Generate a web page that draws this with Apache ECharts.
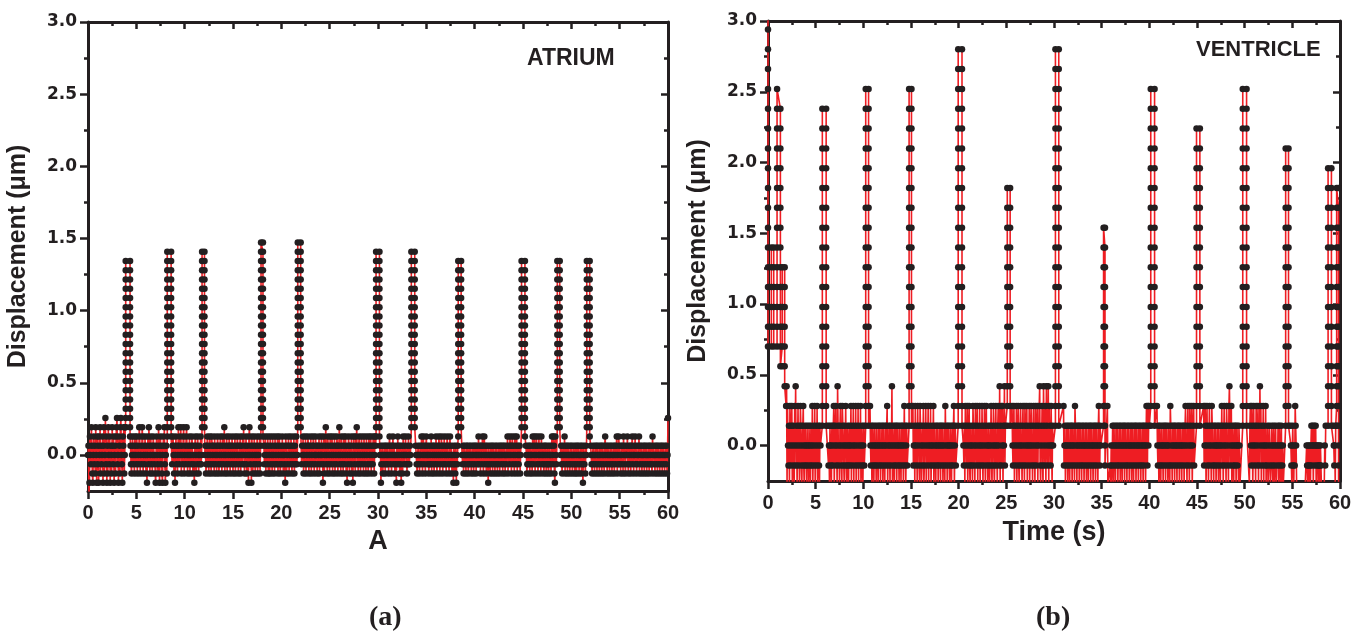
<!DOCTYPE html>
<html>
<head>
<meta charset="utf-8">
<title>Atrium and ventricle displacement</title>
<script src="https://cdn.jsdelivr.net/npm/echarts@6/dist/echarts.min.js"></script>
<style>
  html, body { margin: 0; padding: 0; background: #ffffff; }
  #chart { width: 1368px; height: 637px; }
</style>
</head>
<body>
<div id="chart"></div>
<script>
// ---- recording parameters ----
const SAMPLE_DT = 0.05;         // s between baseline samples
const ATRIUM_STEP = 0.064;      // µm per quantisation level (atrium)
const VENTRICLE_STEP = 0.14;    // µm per quantisation level (ventricle)

// ---- axis ticks ----
const xMajorTicks = [0, 5, 10, 15, 20, 25, 30, 35, 40, 45, 50, 55, 60];
const xMinorTicks = [2.5, 7.5, 12.5, 17.5, 22.5, 27.5, 32.5, 37.5, 42.5, 47.5, 52.5, 57.5];
const yMajorTicks = [0, 0.5, 1.0, 1.5, 2.0, 2.5, 3.0];
const yMinorTicks = [0.25, 0.75, 1.25, 1.75, 2.25, 2.75];

// ---- atrium: baseline runs (levels) ----
const atriumRunStart = [0.0, 4.4, 8.7, 12.1, 18.2, 22.1, 30.2, 33.9, 38.7, 45.3, 48.9, 52.0];
const atriumRuns = [
  [0,1,-4,-3,2,0,-1,3,1,-2,-3,0,2,-1,1,-2,3,0,-3,2,
   -1,1,-3,2,0,3,-2,1,-1,0,2,-3,1,3,-2,0,4,-1,2,-3,
   1,-2,3,0,-1,2,-3,1,0,-2,3,1,-1,2,-3,0,1,-2,2,3,
   4,-1,0,-3,2,1,-2,3,4,0,-1,-3,2,1,3,-2,0,3],
  [1,-1,-2,0,2,1,-1,0,-2,2,1,0,-1,2,-2,1,0,-1,3,2,
   -2,0,1,-1,3,2,-2,0,1,-1,2,0,-2,1,-3,0,2,-1,3,1,
   -2,0,2,-1,1,-2,0,2,1,-1,0,-2,-3,1,2,0,-1,-2,3,1,
   -3,0,2,-1,1,-2,-3,0,2,1,3,-1,-3,0,1,-2],
  [-1,1,2,0,-2,1,-3,0,2,-1,1,-2,0,3,1,-1,2,0,3,-2,
   1,0,-1,2,3,-2,0,1,-1,2,3,0,-2,1,-1,0,2,-2,1,0,
   -1,2,1,-2,0,-1,-3,1,2,0,-2,1,-1,2,0,-2,1,0,-1,2,
   -1,0],
  [0,1,-2,-1,1,2,0,-1,-2,1,2,0,-1,-2,2,1,0,-1,1,-2,
   2,0,-1,1,-2,0,2,1,-1,-2,0,1,2,-1,0,-2,1,2,-1,0,
   3,-2,1,0,-1,2,-2,1,0,-1,2,1,-2,0,1,-1,2,0,-2,1,
   -1,0,2,-2,1,-1,0,2,1,-2,0,-1,1,2,-2,0,1,-1,2,0,
   3,-1,-2,1,0,2,-1,-2,1,0,-3,2,3,0,-1,1,-3,2,0,-2,
   1,-1,2,0,-2,1,-1,0,2,-2,1,0,-1,2,-2,1],
  [1,-1,0,2,-2,1,0,-1,2,-2,1,0,-2,2,-1,1,0,-2,2,-1,
   0,1,-2,2,-1,0,1,-1,2,-2,0,1,2,-1,-2,0,1,-1,2,0,
   -2,1,0,-1,-3,2,1,-2,0,-1,1,2,-2,0,1,-1,2,0,-2,1,
   -1,0,2,-2,1,-1,0,2,-1,0],
  [-1,1,0,2,-2,0,1,-1,2,-2,1,0,-1,2,1,-2,0,1,-1,2,
   -2,0,1,-1,2,1,-2,0,-1,2,0,1,-2,1,-1,0,2,-2,1,0,
   -1,2,0,1,-3,-1,2,-2,0,1,3,-1,0,-2,2,1,-1,0,-2,2,
   1,-1,0,2,-2,1,0,-1,2,-2,1,0,-1,2,1,-2,0,1,3,-1,
   0,-2,2,1,-1,0,-2,2,1,-1,0,2,-2,1,-3,0,-1,2,1,-2,
   0,1,-1,2,-2,0,-3,1,2,-1,0,-2,2,1,3,-1,0,-2,1,2,
   -1,0,-2,1,2,-1,0,1,-2,2,0,-1,1,-2,2,0,1,-1,-2,2,
   1,0,-1,2,-2,1,0,-1,2,1,-2,0,2,1],
  [0,1,-3,-1,0,1,-2,0,-1,1,0,-2,1,-1,0,1,-1,0,-2,1,
   2,0,-1,1,-2,0,1,2,-1,0,1,-2,0,-1,-3,1,0,2,-1,1,
   0,-2,1,-1,-3,0,1,-2,2,0,-1,1,0,2,-1,0,-2,1,-1,2,
   0,-1,1,0],
  [1,0,-1,-2,0,1,-1,0,-2,1,0,-1,2,1,-2,0,2,-1,1,0,
   -2,1,2,0,-1,1,0,-2,-1,1,0,-1,2,-2,1,0,-1,1,-2,0,
   1,-1,2,0,-2,1,-1,0,2,1,-2,0,-1,2,1,0,-2,1,-1,2,
   0,-1,1,-2,0,2,1,-1,0,-2,1,2,-1,0,1,-2,0,-1,-3,1,
   0,-1,-2,1,-3,0,-1,1],
  [0,-1,1,-2,0,1,-1,0,-2,1,0,1,-1,-2,0,1,-1,0,1,-2,
   0,-1,1,0,-2,1,-1,0,1,-2,0,1,-1,0,2,-1,0,1,-2,1,
   0,-1,2,1,-2,0,2,-1,1,0,-2,1,-1,0,-3,1,-1,0,-2,1,
   0,-1,1,-2,0,1,-1,0,-2,1,0,-1,1,-2,0,-1,1,0,-2,1,
   0,-1,1,0,-2,1,-1,0,1,-2,0,-1,1,0,2,-2,1,0,-1,2,
   1,0,-2,1,2,-1,0,1,-2,2,0,-1,1,2,-2,0,1,-1,0,1,
   -2,0],
  [1,0,-2,-1,1,0,-1,1,-2,0,1,-1,0,-2,2,1,-1,0,2,-2,
   1,0,2,-1,1,-2,0,2,-1,0,1,-2,2,0,-1,1,0,-2,-1,1,
   0,1,-2,-1,0,1,-1,-2,0,1,-1,0,-2,1,2,0,-1,2,1,-2,
   -3,2,0,-1],
  [0,1,-1,-2,0,1,-1,0,2,-2,1,0,-1,1,-2,0,1,-1,0,-2,
   1,-1,0,1,-2,0,-1,1,0,-2,-1,1,0,-2,1,-1,0,1,-2,0,
   -1,1,0,-2,1,-1,-3,0,1,-1,0,-2,1,0],
  [1,0,-1,-2,0,1,-1,0,-2,1,0,-1,1,-2,0,1,-1,0,-2,1,
   0,-1,1,-2,0,1,-1,0,-2,1,2,0,-1,1,-2,0,1,-1,0,-2,
   1,0,-1,1,-2,0,-1,1,0,-2,1,-1,0,1,2,-2,0,-1,2,1,
   -1,0,-2,1,0,-1,1,-2,2,0,1,-1,-2,0,1,0,2,-1,-2,1,
   0,-1,1,-2,0,1,2,-1,0,-2,1,0,2,-1,1,-2,0,-1,1,0,
   2,-2,1,-1,0,1,-2,0,-1,1,0,-2,1,-1,0,1,-2,0,-1,1,
   0,-2,1,-1,0,1,-1,-2,2,0,1,-1,0,-2,1,0,-1,1,-2,0,
   1,-1,0,-2,1,0,-1,1,-2,0,1,-1,0,-2,1,0,-1,1,-2,0,
   4]
];

// ---- atrium: contraction spikes (rising / falling columns, levels) ----
const atriumColumnTime = [3.9, 4.35, 8.2, 8.6, 11.8, 12.05, 17.9, 18.1, 21.7, 22.0, 29.8, 30.15,
                          33.45, 33.8, 38.3, 38.6, 44.85, 45.2, 48.55, 48.8, 51.6, 51.9];
const atriumColumns = [
  [3,4,5,6,7,8,9,10,11,12,13,14,15,16,17,18,19,20,21],
  [21,20,19,18,17,16,15,14,13,12,11,10,9,8,7,6,5,4,3,2],
  [2,3,4,5,6,7,8,9,10,11,12,13,14,15,16,17,18,19,20,21,22],
  [22,21,20,19,18,17,16,15,14,13,12,11,10,9,8,7,6,5,4,3,2],
  [3,4,5,6,7,8,9,10,11,12,13,14,15,16,17,18,19,20,21,22],
  [22,21,20,19,18,17,16,15,14,13,12,11,10,9,8,7,6,5,4,3],
  [3,4,5,6,7,8,9,10,11,12,13,14,15,16,17,18,19,20,21,22,23],
  [23,22,21,20,19,18,17,16,15,14,13,12,11,10,9,8,7,6,5,4,3,2],
  [3,4,5,6,7,8,9,10,11,12,13,14,15,16,17,18,19,20,21,22,23],
  [23,22,21,20,19,18,17,16,15,14,13,12,11,10,9,8,7,6,5,4,3],
  [2,3,4,5,6,7,8,9,10,11,12,13,14,15,16,17,18,19,20,21,22],
  [22,21,20,19,18,17,16,15,14,13,12,11,10,9,8,7,6,5,4,3,2],
  [3,4,5,6,7,8,9,10,11,12,13,14,15,16,17,18,19,20,21,22],
  [22,21,20,19,18,17,16,15,14,13,12,11,10,9,8,7,6,5,4,3],
  [2,3,4,5,6,7,8,9,10,11,12,13,14,15,16,17,18,19,20,21],
  [21,20,19,18,17,16,15,14,13,12,11,10,9,8,7,6,5,4,3],
  [3,4,5,6,7,8,9,10,11,12,13,14,15,16,17,18,19,20,21],
  [21,20,19,18,17,16,15,14,13,12,11,10,9,8,7,6,5,4,3,2],
  [3,4,5,6,7,8,9,10,11,12,13,14,15,16,17,18,19,20,21],
  [21,20,19,18,17,16,15,14,13,12,11,10,9,8,7,6,5,4,3],
  [3,4,5,6,7,8,9,10,11,12,13,14,15,16,17,18,19,20,21],
  [21,20,19,18,17,16,15,14,13,12,11,10,9,8,7,6,5,4,3,2]
];

// ---- ventricle: baseline runs (levels) ----
const ventricleRunStart = [1.9, 6.3, 10.7, 15.2, 20.5, 25.6, 31.0, 35.6, 40.8, 45.7, 50.5, 54.8, 59.3];
const ventricleRuns = [
  [2,3,-2,2,0,-1,1,-2,2,0,-1,1,2,-2,0,1,-1,-2,2,0,
   3,-1,1,-2,0,2,-1,1,-2,0,2,1,-1,-2,0,1,2,-1,-2,0,
   1,-1,0,-2,1,-1,0,-2,1,0,-1,-2,1,0,-1,2,-2,0,1,-1,
   2,-2,0,1,-1,2,-2,0,1,-1,-2,1,0],
  [1,-1,0,-2,1,0,-1,-2,1,0,-1,1,2,-2,0,1,2,-1,0,-2,
   3,1,-1,0,-2,1,2,0,-1,-2,2,1,0,-1,-2,1,0,2,-1,-2,
   0,1,-1,-2,0,1,-1,0,2,-2,1,-1,0,2,-2,1,0,-1,2,-2,
   1,0,-1,2,-2,1,0,-1,2,-2,0,1,-1,-2,0,1,-1],
  [2,0,-1,1,-2,0,1,-1,-2,0,1,-1,0,-2,1,-1,0,-2,1,0,
   -1,1,-2,0,-1,1,0,-2,1,-1,0,-2,1,0,-1,1,2,-2,0,-1,
   1,0,-2,1,-1,0,3,-2,1,0,-1,-2,1,0,-1,1,-2,0,1,-1,
   0,-2,1,-1,0,-2,1,0,-1,1,-2,0,2,-1,1,-2,0,1,-1],
  [2,-1,0,1,-2,2,0,-1,1,-2,2,0,1,-1,-2,2,1,0,-2,-1,
   1,0,2,-2,-1,1,0,2,-2,1,-1,0,2,-2,1,0,-1,2,-2,0,
   1,-1,0,2,-2,1,-1,0,-2,1,0,-1,1,-2,0,-1,1,0,-2,1,
   -1,0,1,-2,0,-1,1,-2,2,0,-1,1,-2,0,1,-1,0,-2,1,0,
   -1,-2,1,0,-1,1,2,-2,0,1,-1],
  [0,-1,1,-2,2,0,1,-1,2,-2,0,1,2,-1,-2,0,1,-1,0,-2,
   2,1,-1,0,-2,2,1,0,-1,2,-2,1,0,-1,2,-2,0,1,-1,2,
   0,-2,1,-1,2,0,-2,1,2,-1,0,-2,1,0,-1,-2,1,0,2,-1,
   -2,1,0,2,-1,-2,0,1,2,-1,0,-2,1,2,0,-1,3,-2,1,2,
   -1,0,2,-2,1,0,3,-1,1],
  [2,0,-1,1,2,-2,0,1,-1,2,-2,0,1,2,-1,-2,0,1,2,-1,
   0,-2,1,2,-1,0,-2,2,1,-1,0,2,-2,1,0,-1,2,-2,0,1,
   2,-1,0,-2,1,2,-1,0,-2,2,1,-1,0,2,-2,1,0,2,3,-1,
   -2,1,0,2,-1,-2,3,1,0,-1,2,-2,3,1,0,-1,3,-2,2,0,
   1,-1,2,0,-2,1,0],
  [2,-1,0,1,-2,0,-1,1,0,-2,1,-1,0,-2,1,0,-1,1,-2,0,
   1,-1,0,-2,2,1,-1,0,-2,1,0,-1,1,-2,0,1,-1,0,-2,1,
   -1,0,1,-2,0,-1,1,0,-2,1,-1,0,-2,1,0,-1,1,-2,0,1,
   -1,0,-2,1,0,-1,1,-2,0,1,-1,0,-2,1,2,0,-1,1,0],
  [2,-2,-2,-2,-2,-2,-1,-2,0,-2,-1,1,0,-2,1,-1,0,-2,1,0,
   -1,1,-2,0,-1,1,0,-2,1,-1,0,-2,1,0,-1,1,-2,0,1,-1,
   0,-2,1,-1,0,1,-2,0,-1,1,0,-2,1,-1,0,-2,1,0,-1,1,
   -2,0,1,-1,0,-2,1,0,-1,1,-2,0,-1,1,0,-2,1,-1,0,1,
   -2,0,2,1,-1,2,0,2,1],
  [2,0,-1,1,-2,0,1,-1,-2,0,1,-1,0,-2,1,0,-1,1,-2,0,
   1,-1,0,-2,1,0,-1,-2,2,1,-1,0,-2,1,0,-1,1,-2,0,1,
   -1,0,-2,1,0,-1,1,-2,0,1,-1,0,-2,1,0,-1,1,-2,0,1,
   2,-1,0,-2,1,2,-1,0,-2,2,1,0,-1,2,-2,0,1,2,-1],
  [2,-1,0,2,1,-2,0,2,-1,1,-2,0,2,-1,1,0,-2,2,1,-1,
   0,-2,1,-1,0,1,-2,0,-1,1,0,-2,1,-1,0,-2,1,0,2,-1,
   1,-2,0,2,-1,1,0,-2,2,1,-1,0,-2,2,3,1,-1,0,2,-2,
   1,0,-1,-2,1,0,-1,1,-2,0,1,-1,0,-2,1,0,-2],
  [-2,1,2,0,-1,2,1,-2,0,2,-1,1,0,-2,2,1,-1,0,2,-2,
   1,-1,3,0,2,-2,1,-1,0,2,-2,1,0,-1,2,-2,0,-1,1,-2,
   -2,0,1,-1,-2,-2,0,1,-1,-2,0,1,-2,-1,0,1,-2,-2,0,-1,
   1,-2,0,1,-1,-2,0,1,-2,-1,0,-2,-2],
  [1,0,-1,-2,0,1,-1,-2,0,-1,2,1,0,-2,-2,-2,-2,-2,-2,-2,
   -2,-2,-2,-2,-2,-2,-2,-2,-2,-2,-2,-2,-2,-2,0,-1,-2,0,-1,-2,
   0,-1,-2,0,1,-1,0,1,-2,0,1,-1,0,1,-2,0,-1,0,-2,-1,
   0,-2,-1,0,-1,-2,-2,-2,-2,-2,-2,-2,0,-1,1],
  [1,0,-1,0,-2,1]
];

// ---- ventricle: contraction spikes (columns, levels) ----
const ventricleColumnTime = [0.0, 0.35, 0.6, 0.95, 1.3, 1.5, 1.75, 5.7, 6.1, 10.25, 10.55, 14.8, 15.05,
                             19.95, 20.35, 25.1, 25.4, 30.15, 30.5, 35.2, 35.35, 40.15, 40.55,
                             44.95, 45.3, 49.8, 50.2, 54.3, 54.6, 58.75, 59.1, 59.65, 59.85];
const ventricleColumns = [
  [22,21,20,19,18,17,16,15,14,13,12,11,10,9,8,7,6,5],
  [5,6,7,8,9,10],
  [10,9,8,7,6,5],
  [5,6,7,8,9,10,11,12,13,14,15,16,17,18],
  [17,16,15,14,13,12,11,10,9,8,7,6,5,4],
  [4,5,6,7,8,9],
  [9,8,7,6,5,4,3],
  [1,2,3,4,5,6,7,8,9,10,11,12,13,14,15,16,17],
  [17,16,15,14,13,12,11,10,9,8,7,6,5,4,3,2,1],
  [1,2,3,4,5,6,7,8,9,10,11,12,13,14,15,16,17,18],
  [18,17,16,15,14,13,12,11,10,9,8,7,6,5,4,3,2,1],
  [1,2,3,4,5,6,7,8,9,10,11,12,13,14,15,16,17,18],
  [18,17,16,15,14,13,12,11,10,9,8,7,6,5,4,3,2,1],
  [1,2,3,4,5,6,7,8,9,10,11,12,13,14,15,16,17,18,19,20],
  [20,19,18,17,16,15,14,13,12,11,10,9,8,7,6,5,4,3,2,1],
  [1,2,3,4,5,6,7,8,9,10,11,12,13],
  [13,12,11,10,9,8,7,6,5,4,3,2,1],
  [1,2,3,4,5,6,7,8,9,10,11,12,13,14,15,16,17,18,19,20],
  [20,19,18,17,16,15,14,13,12,11,10,9,8,7,6,5,4,3,2,1],
  [1,2,3,4,5,6,7,8,9,10,11],
  [11,10,9,8,7,6,5,4,3,2,1,0,-1],
  [1,2,3,4,5,6,7,8,9,10,11,12,13,14,15,16,17,18],
  [18,17,16,15,14,13,12,11,10,9,8,7,6,5,4,3,2,1],
  [1,2,3,4,5,6,7,8,9,10,11,12,13,14,15,16],
  [16,15,14,13,12,11,10,9,8,7,6,5,4,3,2,1],
  [1,2,3,4,5,6,7,8,9,10,11,12,13,14,15,16,17,18],
  [18,17,16,15,14,13,12,11,10,9,8,7,6,5,4,3,2,1],
  [1,2,3,4,5,6,7,8,9,10,11,12,13,14,15],
  [15,14,13,12,11,10,9,8,7,6,5,4,3,2,1],
  [1,2,3,4,5,6,7,8,9,10,11,12,13,14],
  [14,13,12,11,10,9,8,7,6,5,4,3,2,1],
  [1,2,3,4,5,6,7,8,9,10,11,12,13],
  [13,12,11,10,9,8,7,6,5,4,3,2,1,0,-1,-2]
];

// Merge baseline runs and spike columns into one time-ordered trace (µm).
function buildTrace(runStart, runs, columnTime, columns, step) {
  const pieces = [];
  runs.forEach((levels, k) => {
    pieces.push({
      t: runStart[k],
      pts: levels.map((lv, j) => [+(runStart[k] + j * SAMPLE_DT).toFixed(3), lv])
    });
  });
  columns.forEach((levels, k) => {
    pieces.push({ t: columnTime[k], pts: levels.map(lv => [columnTime[k], lv]) });
  });
  pieces.sort((a, b) => a.t - b.t);
  const out = [];
  pieces.forEach(p => p.pts.forEach(([t, lv]) => out.push([t, +(lv * step).toFixed(4)])));
  return out;
}

const atriumTrace = buildTrace(atriumRunStart, atriumRuns, atriumColumnTime, atriumColumns, ATRIUM_STEP);
const ventricleTrace = buildTrace(ventricleRunStart, ventricleRuns, ventricleColumnTime, ventricleColumns, VENTRICLE_STEP);

// ---- styling ----
const INK = '#231f20';
const RED = '#ee1d23';
const SANS = 'Liberation Sans, Arial, sans-serif';
const WIDE_SANS = 'DejaVu Sans, Verdana, sans-serif';
const SERIF = 'Liberation Serif, Times New Roman, serif';

const grids = [
  { left: 88, top: 22, width: 580, height: 469 },
  { left: 768, top: 21, width: 572, height: 460 }
];
const xNames = ['A', 'Time (s)'];
const xNameGaps = [34, 38];

const xAxes = [];
const yAxes = [];
grids.forEach((g, gi) => {
  const tickStyle = { color: INK, width: 2.5 };
  const lineStyle = { color: INK, width: 3 };
  // bottom: labels + major ticks
  xAxes.push({
    gridIndex: gi, type: 'value', min: 0, max: 60, position: 'bottom',
    axisLine: { show: true, onZero: false, lineStyle },
    axisTick: { show: true, customValues: xMajorTicks, length: 8, inside: false, lineStyle: tickStyle },
    axisLabel: { customValues: xMajorTicks, margin: 12, color: INK, fontSize: 20, fontWeight: 'bold', fontFamily: SANS },
    splitLine: { show: false },
    name: xNames[gi], nameLocation: 'middle', nameGap: xNameGaps[gi],
    nameTextStyle: { color: INK, fontSize: 27, fontWeight: 'bold', fontFamily: SANS }
  });
  // bottom: minor ticks
  xAxes.push({
    gridIndex: gi, type: 'value', min: 0, max: 60, position: 'bottom',
    axisLine: { show: false, onZero: false },
    axisTick: { show: true, customValues: xMinorTicks, length: 4, lineStyle: tickStyle },
    axisLabel: { show: false }, splitLine: { show: false }
  });
  // top frame with inward ticks
  xAxes.push({
    gridIndex: gi, type: 'value', min: 0, max: 60, position: 'top',
    axisLine: { show: true, onZero: false, lineStyle },
    axisTick: { show: true, customValues: xMajorTicks, length: 7, inside: true, lineStyle: tickStyle },
    axisLabel: { show: false }, splitLine: { show: false }
  });
  xAxes.push({
    gridIndex: gi, type: 'value', min: 0, max: 60, position: 'top',
    axisLine: { show: false, onZero: false },
    axisTick: { show: true, customValues: xMinorTicks, length: 4, inside: true, lineStyle: tickStyle },
    axisLabel: { show: false }, splitLine: { show: false }
  });

  // left: labels + major ticks
  yAxes.push({
    gridIndex: gi, type: 'value', min: -0.25, max: 3, position: 'left',
    axisLine: { show: true, onZero: false, lineStyle },
    axisTick: { show: true, customValues: yMajorTicks, length: 8, lineStyle: tickStyle },
    axisLabel: {
      customValues: yMajorTicks, margin: 11, color: INK, fontSize: 17, fontWeight: 'bold',
      fontFamily: WIDE_SANS, formatter: v => v.toFixed(1)
    },
    splitLine: { show: false },
    name: 'Displacement (\u03bcm)', nameLocation: 'middle', nameRotate: 90, nameGap: 57,
    nameTextStyle: { color: INK, fontSize: 25, fontWeight: 'bold', fontFamily: SANS }
  });
  yAxes.push({
    gridIndex: gi, type: 'value', min: -0.25, max: 3, position: 'left',
    axisLine: { show: false, onZero: false },
    axisTick: { show: true, customValues: yMinorTicks, length: 4, lineStyle: tickStyle },
    axisLabel: { show: false }, splitLine: { show: false }
  });
  // right frame with inward ticks
  yAxes.push({
    gridIndex: gi, type: 'value', min: -0.25, max: 3, position: 'right',
    axisLine: { show: true, onZero: false, lineStyle },
    axisTick: { show: true, customValues: yMajorTicks, length: 7, inside: true, lineStyle: tickStyle },
    axisLabel: { show: false }, splitLine: { show: false }
  });
  yAxes.push({
    gridIndex: gi, type: 'value', min: -0.25, max: 3, position: 'right',
    axisLine: { show: false, onZero: false },
    axisTick: { show: true, customValues: yMinorTicks, length: 4, inside: true, lineStyle: tickStyle },
    axisLabel: { show: false }, splitLine: { show: false }
  });
});

function traceSeries(data, gi) {
  return {
    type: 'line',
    xAxisIndex: gi * 4,
    yAxisIndex: gi * 4,
    data: data,
    clip: true,
    silent: true,
    symbol: 'circle',
    symbolSize: 6.5,
    showSymbol: true,
    lineStyle: { color: RED, width: 1.6 },
    itemStyle: { color: INK, borderWidth: 0 },
    z: 3
  };
}

const chart = echarts.init(document.getElementById('chart'), null, { renderer: 'canvas' });
chart.setOption({
  backgroundColor: '#ffffff',
  animation: false,
  title: [
    { text: 'ATRIUM', left: 527, top: 47, padding: 0,
      textStyle: { color: INK, fontSize: 23, fontWeight: 'bold', fontFamily: SANS } },
    { text: 'VENTRICLE', left: 1196, top: 39, padding: 0,
      textStyle: { color: INK, fontSize: 22, fontWeight: 'bold', fontFamily: SANS } },
    { text: '(a)', left: 369, top: 604, padding: 0,
      textStyle: { color: INK, fontSize: 28, fontWeight: 'bold', fontFamily: SERIF } },
    { text: '(b)', left: 1036, top: 604, padding: 0,
      textStyle: { color: INK, fontSize: 28, fontWeight: 'bold', fontFamily: SERIF } }
  ],
  grid: grids,
  xAxis: xAxes,
  yAxis: yAxes,
  series: [traceSeries(atriumTrace, 0), traceSeries(ventricleTrace, 1)]
});
</script>
</body>
</html>
